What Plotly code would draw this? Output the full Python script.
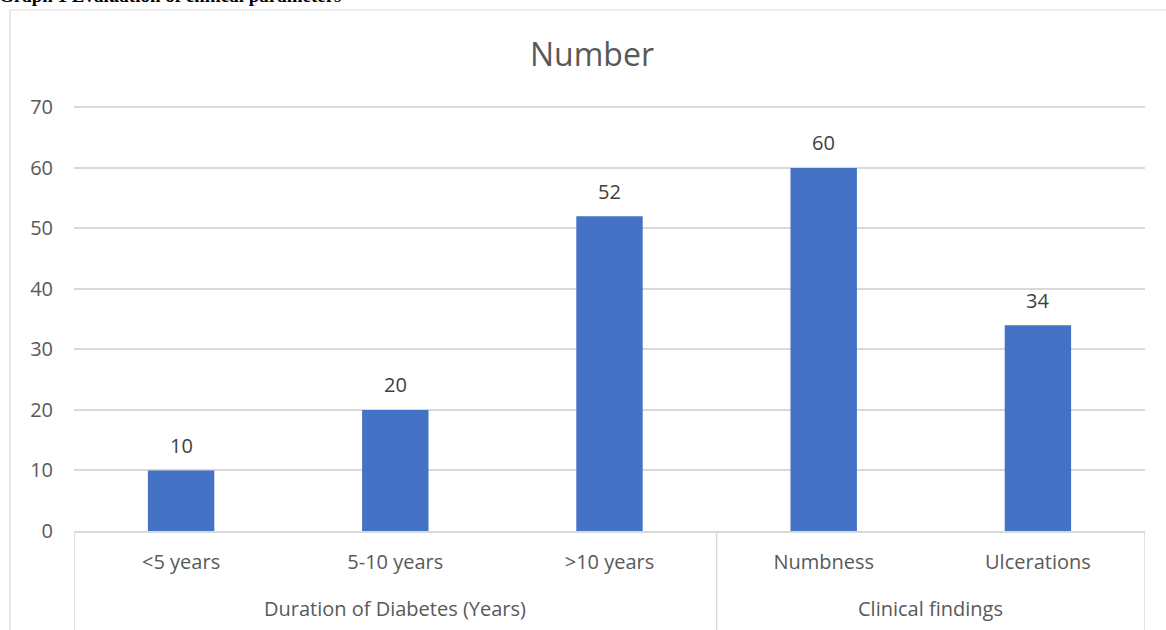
import plotly.graph_objects as go

# Data
groups = ["Duration of Diabetes (Years)"] * 3 + ["Clinical findings"] * 2
categories = ["<5 years", "5-10 years", ">10 years", "Numbness", "Ulcerations"]
values = [10, 20, 52, 60, 34]
y_ticks = [0, 10, 20, 30, 40, 50, 60, 70]

W, H = 1166, 630
ML, MR, MT, MB = 74, 21, 105, 99
PW, PH = W - ML - MR, H - MT - MB

GRID = "#d9d9d9"
TXT = "#595959"
FONT = "Open Sans"


def px_to_paper_x(px):
    return (px - ML) / PW


def px_to_paper_y(py):
    return (H - MB - py) / PH


fig = go.Figure()
fig.add_trace(
    go.Bar(
        x=categories,
        y=values,
        marker=dict(color="#4472C4", line=dict(width=0)),
        width=0.31,
        hoverinfo="skip",
    )
)

annotations = []
shapes = []

# value labels above the bars
for i, v in enumerate(values):
    annotations.append(
        dict(
            x=i, y=v, xref="x", yref="y",
            text=str(v), showarrow=False,
            yanchor="middle", yshift=25,
            font=dict(family=FONT, size=20, color="#404040"),
        )
    )

# group labels and dividers of the two-level category axis
spans = []
start = 0
for i in range(1, len(groups) + 1):
    if i == len(groups) or groups[i] != groups[start]:
        spans.append((groups[start], start, i - 1))
        start = i
divider_x = [-0.5] + [end + 0.5 for _, _, end in spans]
for name, s, e in spans:
    annotations.append(
        dict(
            x=(s + e) / 2, y=px_to_paper_y(608), xref="x", yref="paper",
            text=name, showarrow=False, yanchor="middle",
            font=dict(family=FONT, size=20, color=TXT),
        )
    )
for xd in divider_x:
    shapes.append(
        dict(
            type="line", xref="x", yref="paper",
            x0=xd, x1=xd, y0=0, y1=px_to_paper_y(660),
            line=dict(color=GRID, width=1.5),
        )
    )

# heading above the chart box
annotations.append(
    dict(
        x=px_to_paper_x(-3), y=px_to_paper_y(-5), xref="paper", yref="paper",
        xanchor="left", yanchor="middle",
        text="<b>Graph 1 Evaluation of clinical parameters</b>",
        showarrow=False,
        font=dict(family="Liberation Serif", size=19, color="#000000"),
    )
)

# chart box outline
shapes.append(
    dict(
        type="rect", xref="paper", yref="paper",
        x0=px_to_paper_x(10), x1=px_to_paper_x(1190),
        y0=px_to_paper_y(660), y1=px_to_paper_y(10),
        line=dict(color=GRID, width=1.2), fillcolor="rgba(0,0,0,0)",
    )
)

fig.update_layout(
    width=W, height=H,
    margin=dict(l=ML, r=MR, t=MT, b=MB, autoexpand=False),
    paper_bgcolor="white",
    plot_bgcolor="white",
    showlegend=False,
    title=dict(
        text="Number",
        x=px_to_paper_x(592), xref="paper", xanchor="center",
        y=1 - 55 / H, yref="container", yanchor="middle",
        font=dict(family=FONT, size=32, color=TXT),
    ),
    annotations=annotations,
    shapes=shapes,
    xaxis=dict(
        type="category",
        range=[-0.5, len(categories) - 0.5],
        showline=True, linecolor=GRID, linewidth=1.5,
        showgrid=False, ticks="",
        tickfont=dict(family=FONT, size=20, color=TXT),
        ticklabelstandoff=12,
        automargin=False,
    ),
    yaxis=dict(
        range=[0, 70.4],
        tickvals=y_ticks,
        showgrid=True, gridcolor=GRID, gridwidth=1.5,
        zeroline=False, showline=False,
        tickfont=dict(family=FONT, size=20, color=TXT),
        ticklabelstandoff=20,
        automargin=False,
    ),
)

fig.write_html("out.html")
